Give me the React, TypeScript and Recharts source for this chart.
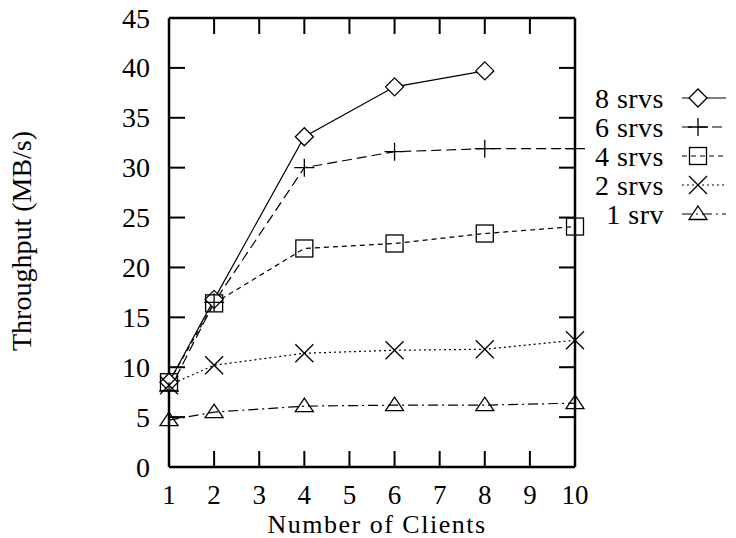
import React from 'react';
import { LineChart, Line, XAxis, YAxis } from 'recharts';

const clients = [1, 2, 4, 6, 8, 10];
const srv8 = [8.5, 16.8, 33.1, 38.1, 39.7, null];
const srv6 = [7.6, 16.5, 30.0, 31.6, 31.9, 31.9];
const srv4 = [8.5, 16.4, 21.9, 22.4, 23.4, 24.1];
const srv2 = [8.2, 10.2, 11.4, 11.7, 11.8, 12.7];
const srv1 = [4.7, 5.5, 6.1, 6.2, 6.2, 6.4];

const xTicks = [1, 2, 3, 4, 5, 6, 7, 8, 9, 10];
const yTicks = [0, 5, 10, 15, 20, 25, 30, 35, 40, 45];

const FONT = 'Liberation Serif, Times New Roman, serif';
const INK = '#000';
const FS = 28;

type Marker = 'diamond' | 'plus' | 'square' | 'cross' | 'triangle';

const series: { key: string; name: string; dash?: string; marker: Marker }[] = [
  { key: 's8', name: '8 srvs', marker: 'diamond' },
  { key: 's6', name: '6 srvs', dash: '10 5', marker: 'plus' },
  { key: 's4', name: '4 srvs', dash: '5 4', marker: 'square' },
  { key: 's2', name: '2 srvs', dash: '2 3', marker: 'cross' },
  { key: 's1', name: '1 srv', dash: '10 4 2 4', marker: 'triangle' },
];

const chartData = clients.map((c, i) => ({
  x: c,
  s8: srv8[i],
  s6: srv6[i],
  s4: srv4[i],
  s2: srv2[i],
  s1: srv1[i],
}));

function markerShape(kind: Marker, cx: number, cy: number) {
  const p = { fill: 'none', stroke: INK, strokeWidth: 1.3 };
  switch (kind) {
    case 'diamond':
      return <path d={`M${cx},${cy - 9}L${cx + 9},${cy}L${cx},${cy + 9}L${cx - 9},${cy}Z`} {...p} fill="#fff" />;
    case 'plus':
      return <path d={`M${cx - 10},${cy}H${cx + 10}M${cx},${cy - 9}V${cy + 9}`} {...p} />;
    case 'square':
      return <rect x={cx - 8.5} y={cy - 8.5} width={17} height={17} {...p} />;
    case 'cross':
      return <path d={`M${cx - 9},${cy - 9}L${cx + 9},${cy + 9}M${cx - 9},${cy + 9}L${cx + 9},${cy - 9}`} {...p} />;
    default:
      return <path d={`M${cx},${cy - 8}L${cx + 9},${cy + 5.5}L${cx - 9},${cy + 5.5}Z`} {...p} />;
  }
}

const makeDot = (kind: Marker) => (props: any) => {
  const { cx, cy, index } = props;
  if (cx == null || cy == null || props.value == null) return <g key={`d-${index}`} />;
  return <g key={`d-${index}`}>{markerShape(kind, cx, cy)}</g>;
};

// ticks point inward, gnuplot style
const BottomTick = (props: any) => {
  const { x, y, payload } = props;
  return (
    <g>
      <line x1={x} x2={x} y1={y} y2={y - 16} stroke={INK} strokeWidth={2} />
      <text x={x} y={y + 36.5} textAnchor="middle" fontFamily={FONT} fontSize={27} fill={INK}>
        {payload.value}
      </text>
    </g>
  );
};

const TopTick = (props: any) => {
  const { x, y } = props;
  return <line x1={x} x2={x} y1={y} y2={y + 16} stroke={INK} strokeWidth={2} />;
};

const LeftTick = (props: any) => {
  const { x, y, payload } = props;
  return (
    <g>
      <line x1={x} x2={x + 16} y1={y} y2={y} stroke={INK} strokeWidth={2} />
      <text x={x - 19} y={y} dy="0.34em" textAnchor="end" fontFamily={FONT} fontSize={FS} fill={INK}>
        {payload.value}
      </text>
    </g>
  );
};

const RightTick = (props: any) => {
  const { x, y } = props;
  return <line x1={x} x2={x - 16} y1={y} y2={y} stroke={INK} strokeWidth={2} />;
};

const XLabel = () => (
  <text x={377} y={532.8} textAnchor="middle" fontFamily={FONT} fontSize={26} letterSpacing={1.5} fill={INK}>
    Number of Clients
  </text>
);

const YLabel = () => (
  <text
    x={31}
    y={241}
    textAnchor="middle"
    transform="rotate(-90, 31, 241)"
    fontFamily={FONT}
    fontSize={FS}
    fill={INK}
  >
    Throughput (MB/s)
  </text>
);

function LegendOverlay() {
  const rowY = [98, 127, 156, 185, 214];
  return (
    <svg
      width={736}
      height={538}
      style={{ position: 'absolute', left: 0, top: 0, pointerEvents: 'none' }}
    >
      {series.map((s, i) => (
        <g key={s.key}>
          <text
            x={664}
            y={rowY[i]}
            dy="0.34em"
            textAnchor="end"
            fontFamily={FONT}
            fontSize={FS}
            letterSpacing={0.5}
            fill={INK}
          >
            {s.name}
          </text>
          <line
            x1={682}
            x2={726}
            y1={rowY[i]}
            y2={rowY[i]}
            stroke={INK}
            strokeWidth={1.2}
            strokeDasharray={s.dash}
          />
          {markerShape(s.marker, 698, rowY[i])}
        </g>
      ))}
    </svg>
  );
}

export default function App() {
  return (
    <div style={{ position: 'absolute', left: 0, top: 0, width: 736, height: 538, background: '#fff' }}>
      <LineChart
        width={736}
        height={538}
        data={chartData}
        margin={{ top: 17, right: 160, bottom: 0, left: 69 }}
      >
        <XAxis
          dataKey="x"
          type="number"
          domain={[1, 10]}
          ticks={xTicks}
          tickSize={0}
          tickMargin={0}
          tick={<BottomTick />}
          axisLine={{ stroke: INK, strokeWidth: 2.5 }}
          height={71}
          label={<XLabel />}
        />
        <XAxis
          xAxisId="top"
          dataKey="x"
          orientation="top"
          type="number"
          domain={[1, 10]}
          ticks={xTicks}
          tickSize={0}
          tickMargin={0}
          tick={<TopTick />}
          axisLine={{ stroke: INK, strokeWidth: 2.5 }}
          height={1}
        />
        <YAxis
          type="number"
          domain={[0, 45]}
          ticks={yTicks}
          tickSize={0}
          tickMargin={0}
          tick={<LeftTick />}
          axisLine={{ stroke: INK, strokeWidth: 2.5 }}
          width={100}
          label={<YLabel />}
        />
        <YAxis
          yAxisId="right"
          orientation="right"
          type="number"
          domain={[0, 45]}
          ticks={yTicks}
          tickSize={0}
          tickMargin={0}
          tick={<RightTick />}
          axisLine={{ stroke: INK, strokeWidth: 2.5 }}
          width={1}
        />
        {/* invisible series so the mirrored frame axes get drawn */}
        <Line
          xAxisId="top"
          yAxisId="right"
          dataKey="s1"
          stroke="none"
          dot={false}
          activeDot={false}
          legendType="none"
          isAnimationActive={false}
        />
        {series.map((s) => (
          <Line
            key={s.key}
            dataKey={s.key}
            name={s.name}
            type="linear"
            stroke={INK}
            strokeWidth={1.2}
            strokeDasharray={s.dash}
            dot={makeDot(s.marker)}
            activeDot={false}
            connectNulls={false}
            isAnimationActive={false}
          />
        ))}
      </LineChart>
      <LegendOverlay />
    </div>
  );
}
